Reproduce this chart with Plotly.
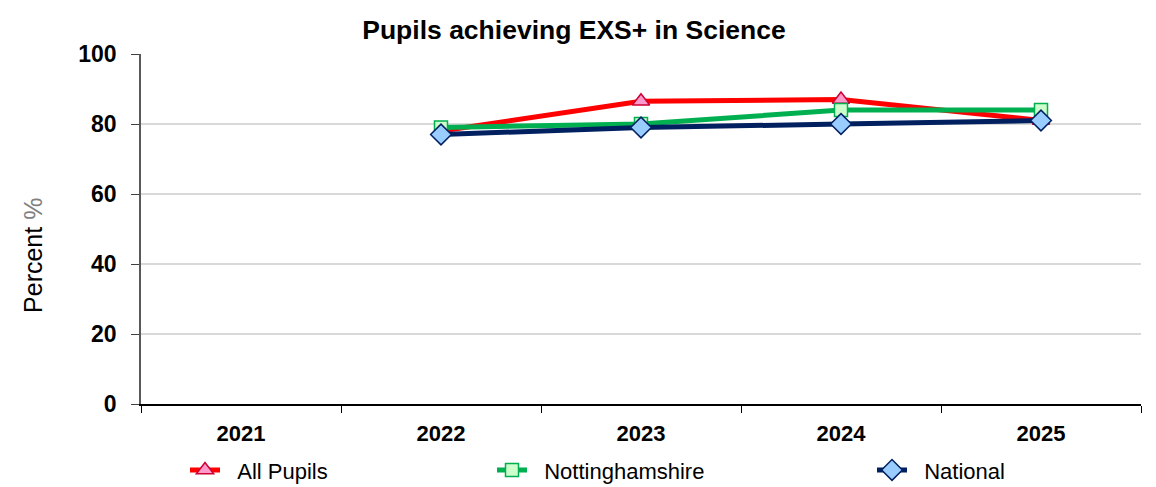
import plotly.graph_objects as go

years = ["2021", "2022", "2023", "2024", "2025"]
all_pupils = [None, 78, 86.5, 87, 81]
nottinghamshire = [None, 79, 80, 84, 84]
national = [None, 77, 79, 80, 81]

fig = go.Figure()

fig.add_trace(go.Scatter(
    x=years, y=all_pupils, name="\u00a0\u00a0All Pupils", mode="lines+markers",
    line=dict(color="#ff0000", width=5),
    marker=dict(symbol="triangle-up", size=15, color="#ff99cc",
                line=dict(color="#cc0033", width=1.5)),
    legend="legend",
))
fig.add_trace(go.Scatter(
    x=years, y=nottinghamshire, name="\u00a0\u00a0Nottinghamshire", mode="lines+markers",
    line=dict(color="#00b050", width=5),
    marker=dict(symbol="square", size=13, color="#ccffcc",
                line=dict(color="#00b050", width=1.5)),
    legend="legend2",
))
fig.add_trace(go.Scatter(
    x=years, y=national, name="\u00a0\u00a0National", mode="lines+markers",
    line=dict(color="#002060", width=5),
    marker=dict(symbol="diamond", size=16, color="#99ccff",
                line=dict(color="#002060", width=1.5)),
    legend="legend3",
))

# the page body adds an 8px offset, so the margins are shifted back by 8
leg = dict(orientation="h", yref="container", yanchor="middle", y=0.051, xanchor="left",
           bgcolor="rgba(0,0,0,0)",
           font=dict(family="Liberation Sans, Arial", size=22, color="#000000"))

fig.update_layout(
    width=1156, height=487,
    paper_bgcolor="white", plot_bgcolor="white",
    margin=dict(l=133, r=23, t=46, b=91),
    title=dict(text="<b>Pupils achieving EXS+ in Science</b>", x=0.4896, xanchor="center",
               y=0.955, yanchor="middle",
               font=dict(family="Liberation Sans, Arial", size=26.5, color="#000000")),
    showlegend=True,
    legend=dict(leg, x=0.044),
    legend2=dict(leg, x=0.351),
    legend3=dict(leg, x=0.731),
    font=dict(family="Liberation Sans, Arial", color="#000000"),
    annotations=[dict(
        text="Percent <span style='color:#7f7f7f'>%</span>", textangle=-90,
        xref="paper", yref="paper", x=-0.108, y=0.423,
        xanchor="center", yanchor="middle", showarrow=False,
        font=dict(family="Liberation Sans, Arial", size=25, color="#000000"),
    )],
)

fig.update_xaxes(
    type="category", categoryorder="array", categoryarray=years,
    range=[-0.5, 4.5], automargin=False,
    tickson="boundaries", ticks="outside", ticklen=7, tickcolor="#000000",
    showline=True, linecolor="#000000", linewidth=1.5,
    showgrid=False, zeroline=False, ticklabelstandoff=9,
    tickfont=dict(family="Liberation Sans, Arial", size=22, color="#000000", weight="bold"),
)
fig.update_yaxes(
    range=[0, 100], tickvals=[0, 20, 40, 60, 80, 100], automargin=False,
    ticks="outside", ticklen=8, tickcolor="#404040",
    showline=True, linecolor="#595959", linewidth=1.5,
    showgrid=True, gridcolor="#d9d9d9", gridwidth=1.5, zeroline=False,
    ticklabelstandoff=10,
    tickfont=dict(family="Liberation Sans, Arial", size=23, color="#000000", weight="bold"),
)

fig.write_html("out.html")
